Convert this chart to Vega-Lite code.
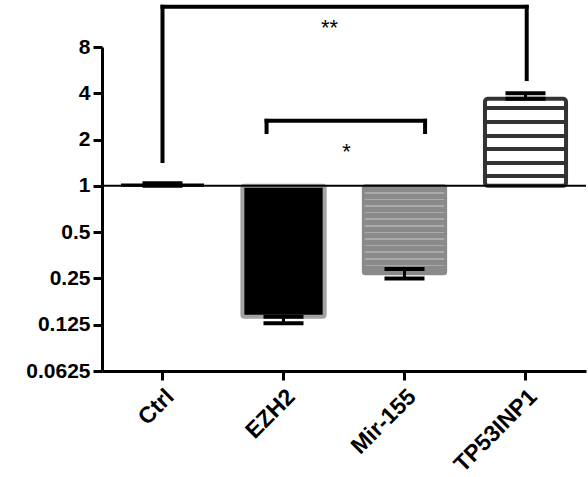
{
  "$schema": "https://vega.github.io/schema/vega-lite/v6.json",
  "width": 484,
  "height": 324,
  "autosize": "none",
  "padding": {"left": 102, "top": 47, "right": 2, "bottom": 106},
  "background": "white",
  "config": {"view": {"stroke": null}},
  "datasets": {
    "bars": [
      {"group": "Ctrl", "value": 1.02, "lo": 1.0, "hi": 1.04},
      {"group": "EZH2", "value": 0.141, "lo": 0.128, "hi": 0.141},
      {"group": "Mir-155", "value": 0.268, "lo": 0.25, "hi": 0.288},
      {"group": "TP53INP1", "value": 3.68, "lo": 3.68, "hi": 4.0}
    ],
    "brackets": [
      {"xa": 0.5, "xb": 3.51, "ya": 14.6, "yb": 14.6},
      {"xa": 0.5, "xb": 0.5, "ya": 14.6, "yb": 1.45},
      {"xa": 3.51, "xb": 3.51, "ya": 14.6, "yb": 4.95},
      {"xa": 1.36, "xb": 2.67, "ya": 2.65, "yb": 2.65},
      {"xa": 1.36, "xb": 1.36, "ya": 2.65, "yb": 2.24},
      {"xa": 2.67, "xb": 2.67, "ya": 2.65, "yb": 2.24}
    ],
    "stars": [
      {"xs": 1.88, "ys": 10.6, "label": "**"},
      {"xs": 2.02, "ys": 1.66, "label": "*"}
    ],
    "baseline": [{"base": 1}]
  },
  "layer": [
    {
      "data": {"name": "bars"},
      "layer": [
        {
          "transform": [{"filter": "datum.group === 'Ctrl'"}],
          "mark": {"type": "bar", "width": {"band": 0.67}, "fill": "black", "stroke": "black", "strokeWidth": 2},
          "encoding": {
            "x": {
              "field": "group", "type": "nominal", "sort": ["Ctrl", "EZH2", "Mir-155", "TP53INP1"],
              "scale": {"domain": ["Ctrl", "EZH2", "Mir-155", "TP53INP1"], "paddingInner": 0, "paddingOuter": 0},
              "axis": {
                "title": null, "labelAngle": -45, "labelFont": "Liberation Sans", "labelFontWeight": "bold",
                "labelFontSize": 23, "labelColor": "black", "domainColor": "black", "domainWidth": 3,
                "tickColor": "black", "tickWidth": 3, "tickSize": 9, "labelPadding": 5
              }
            },
            "y": {"field": "value", "type": "quantitative"},
            "y2": {"datum": 1}
          }
        },
        {
          "transform": [{"filter": "datum.group === 'EZH2'"}],
          "mark": {"type": "bar", "width": {"band": 0.68}, "fill": "black", "stroke": "#a3a3a3", "strokeWidth": 4, "cornerRadius": 2},
          "encoding": {
            "x": {"field": "group", "type": "nominal"},
            "y": {"field": "value", "type": "quantitative"},
            "y2": {"datum": 1}
          }
        },
        {
          "transform": [{"filter": "datum.group === 'Mir-155'"}],
          "mark": {"type": "bar", "width": {"band": 0.68}, "stroke": "#8a8a8a", "strokeWidth": 3, "cornerRadius": 2,
            "fill": {"gradient": "linear", "x1": 0, "y1": 0, "x2": 0, "y2": 1, "stops": [
              {"offset": 0, "color": "#8a8a8a"},
              {"offset": 0.07, "color": "#8a8a8a"}, {"offset": 0.07, "color": "#aaaaaa"}, {"offset": 0.088, "color": "#aaaaaa"}, {"offset": 0.088, "color": "#8a8a8a"},
              {"offset": 0.145, "color": "#8a8a8a"}, {"offset": 0.145, "color": "#aaaaaa"}, {"offset": 0.163, "color": "#aaaaaa"}, {"offset": 0.163, "color": "#8a8a8a"},
              {"offset": 0.22, "color": "#8a8a8a"}, {"offset": 0.22, "color": "#aaaaaa"}, {"offset": 0.238, "color": "#aaaaaa"}, {"offset": 0.238, "color": "#8a8a8a"},
              {"offset": 0.295, "color": "#8a8a8a"}, {"offset": 0.295, "color": "#aaaaaa"}, {"offset": 0.313, "color": "#aaaaaa"}, {"offset": 0.313, "color": "#8a8a8a"},
              {"offset": 0.37, "color": "#8a8a8a"}, {"offset": 0.37, "color": "#aaaaaa"}, {"offset": 0.388, "color": "#aaaaaa"}, {"offset": 0.388, "color": "#8a8a8a"},
              {"offset": 0.445, "color": "#8a8a8a"}, {"offset": 0.445, "color": "#aaaaaa"}, {"offset": 0.463, "color": "#aaaaaa"}, {"offset": 0.463, "color": "#8a8a8a"},
              {"offset": 0.52, "color": "#8a8a8a"}, {"offset": 0.52, "color": "#aaaaaa"}, {"offset": 0.538, "color": "#aaaaaa"}, {"offset": 0.538, "color": "#8a8a8a"},
              {"offset": 0.595, "color": "#8a8a8a"}, {"offset": 0.595, "color": "#aaaaaa"}, {"offset": 0.613, "color": "#aaaaaa"}, {"offset": 0.613, "color": "#8a8a8a"},
              {"offset": 0.67, "color": "#8a8a8a"}, {"offset": 0.67, "color": "#aaaaaa"}, {"offset": 0.688, "color": "#aaaaaa"}, {"offset": 0.688, "color": "#8a8a8a"},
              {"offset": 0.745, "color": "#8a8a8a"}, {"offset": 0.745, "color": "#aaaaaa"}, {"offset": 0.763, "color": "#aaaaaa"}, {"offset": 0.763, "color": "#8a8a8a"},
              {"offset": 0.82, "color": "#8a8a8a"}, {"offset": 0.82, "color": "#aaaaaa"}, {"offset": 0.838, "color": "#aaaaaa"}, {"offset": 0.838, "color": "#8a8a8a"},
              {"offset": 0.895, "color": "#8a8a8a"}, {"offset": 0.895, "color": "#aaaaaa"}, {"offset": 0.913, "color": "#aaaaaa"}, {"offset": 0.913, "color": "#8a8a8a"},
              {"offset": 1, "color": "#8a8a8a"}
            ]}
          },
          "encoding": {
            "x": {"field": "group", "type": "nominal"},
            "y": {"field": "value", "type": "quantitative"},
            "y2": {"datum": 1}
          }
        },
        {
          "transform": [{"filter": "datum.group === 'TP53INP1'"}],
          "mark": {"type": "bar", "width": {"band": 0.67}, "stroke": "#333333", "strokeWidth": 4, "cornerRadius": 3,
            "fill": {"gradient": "linear", "x1": 0, "y1": 0, "x2": 0, "y2": 1, "stops": [
              {"offset": 0, "color": "white"},
              {"offset": 0.085, "color": "white"}, {"offset": 0.085, "color": "#333333"}, {"offset": 0.13, "color": "#333333"}, {"offset": 0.13, "color": "white"},
              {"offset": 0.245, "color": "white"}, {"offset": 0.245, "color": "#333333"}, {"offset": 0.29, "color": "#333333"}, {"offset": 0.29, "color": "white"},
              {"offset": 0.4, "color": "white"}, {"offset": 0.4, "color": "#333333"}, {"offset": 0.445, "color": "#333333"}, {"offset": 0.445, "color": "white"},
              {"offset": 0.555, "color": "white"}, {"offset": 0.555, "color": "#333333"}, {"offset": 0.6, "color": "#333333"}, {"offset": 0.6, "color": "white"},
              {"offset": 0.71, "color": "white"}, {"offset": 0.71, "color": "#333333"}, {"offset": 0.755, "color": "#333333"}, {"offset": 0.755, "color": "white"},
              {"offset": 0.86, "color": "white"}, {"offset": 0.86, "color": "#333333"}, {"offset": 0.905, "color": "#333333"}, {"offset": 0.905, "color": "white"},
              {"offset": 1, "color": "white"}
            ]}
          },
          "encoding": {
            "x": {"field": "group", "type": "nominal"},
            "y": {"field": "value", "type": "quantitative"},
            "y2": {"datum": 1}
          }
        },
        {
          "mark": {"type": "rule", "color": "black", "strokeWidth": 3},
          "encoding": {
            "x": {"field": "group", "type": "nominal"},
            "y": {"field": "lo", "type": "quantitative"},
            "y2": {"field": "hi"}
          }
        },
        {
          "mark": {"type": "tick", "color": "black", "opacity": 1, "thickness": 4, "size": 40, "orient": "horizontal"},
          "encoding": {
            "x": {"field": "group", "type": "nominal"},
            "y": {"field": "lo", "type": "quantitative"}
          }
        },
        {
          "mark": {"type": "tick", "color": "black", "opacity": 1, "thickness": 4, "size": 40, "orient": "horizontal"},
          "encoding": {
            "x": {"field": "group", "type": "nominal"},
            "y": {"field": "hi", "type": "quantitative"}
          }
        }
      ],
      "encoding": {
        "y": {
          "type": "quantitative",
          "scale": {"type": "log", "base": 2, "domain": [0.0625, 8], "nice": false, "zero": false},
          "axis": {
            "title": null, "values": [0.0625, 0.125, 0.25, 0.5, 1, 2, 4, 8],
            "labelExpr": "datum.value === 0.0625 ? '0.0625' : datum.value === 0.125 ? '0.125' : datum.value === 0.25 ? '0.25' : datum.value === 0.5 ? '0.5' : format(datum.value, 'd')",
            "labelFont": "Liberation Sans", "labelFontWeight": "bold", "labelFontSize": 21, "labelColor": "black",
            "domainColor": "black", "domainWidth": 3, "tickColor": "black", "tickWidth": 3, "tickSize": 9,
            "labelPadding": 3, "grid": false, "labelOverlap": false, "labelBound": false
          }
        }
      }
    },
    {
      "data": {"name": "baseline"},
      "mark": {"type": "rule", "color": "black", "strokeWidth": 2},
      "encoding": {"y": {"field": "base", "type": "quantitative"}}
    },
    {
      "data": {"name": "brackets"},
      "mark": {"type": "rule", "color": "black", "strokeWidth": 4, "strokeCap": "square", "clip": false},
      "encoding": {
        "x": {"field": "xa", "type": "quantitative", "scale": {"domain": [0, 4], "nice": false, "zero": false}, "axis": null},
        "x2": {"field": "xb"},
        "y": {"field": "ya", "type": "quantitative"},
        "y2": {"field": "yb"}
      }
    },
    {
      "data": {"name": "stars"},
      "mark": {"type": "text", "font": "Liberation Sans", "fontSize": 22, "color": "black", "baseline": "middle", "align": "center", "clip": false},
      "encoding": {
        "x": {"field": "xs", "type": "quantitative", "scale": {"domain": [0, 4], "nice": false, "zero": false}, "axis": null},
        "y": {"field": "ys", "type": "quantitative"},
        "text": {"field": "label"}
      }
    }
  ],
  "resolve": {"scale": {"x": "independent"}}
}
